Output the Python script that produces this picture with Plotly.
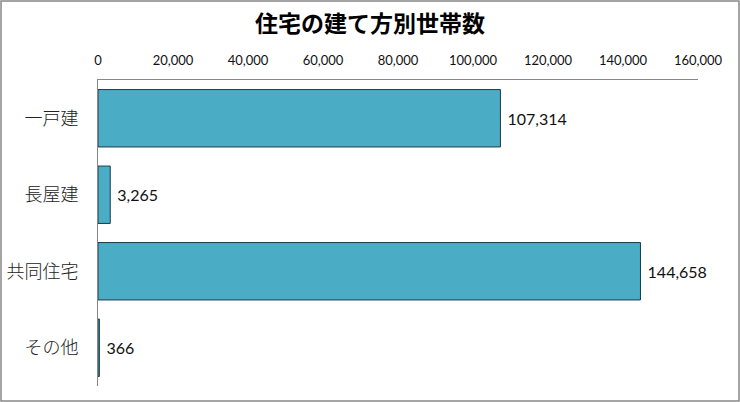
import plotly.graph_objects as go

categories = ["一戸建", "長屋建", "共同住宅", "その他"]
values = [107314, 3265, 144658, 366]
tick_vals = [0, 20000, 40000, 60000, 80000, 100000, 120000, 140000, 160000]
tick_text = ["0", "20,000", "40,000", "60,000", "80,000", "100,000", "120,000", "140,000", "160,000"]

W, H = 740, 402
L, R, T, B = 98, 42, 80, 16
pw, ph = W - L - R, H - T - B

FONT = "Lato, 'Noto Sans CJK JP', sans-serif"
JFONT = "'Noto Sans CJK JP', sans-serif"

fig = go.Figure(go.Bar(
    x=values, y=categories, orientation="h",
    marker=dict(color="#4BACC6", line=dict(color="#1f3a4a", width=1)),
    text=[f" {v:,}" for v in values], textposition="outside",
    textfont=dict(size=16, color="#111", family=FONT),
    cliponaxis=False,
))

fig.update_layout(
    width=W, height=H,
    margin=dict(l=L, r=R, t=T, b=B, autoexpand=False),
    paper_bgcolor="white", plot_bgcolor="white",
    title=dict(text="<b>住宅の建て方別世帯数</b>", x=0.5, xanchor="center",
               y=1 - 24 / H, yanchor="middle",
               font=dict(size=23, color="#000", family=JFONT, weight=900)),
    bargap=0.25,
    showlegend=False,
    font=dict(family=FONT, color="#111"),
)
fig.update_xaxes(side="top", range=[0, 160000], tickvals=tick_vals, ticktext=tick_text,
                 showgrid=False, zeroline=False, showline=True, linecolor="#888", linewidth=1,
                 ticks="", automargin=False,
                 tickfont=dict(size=13, family=FONT, color="#111"), ticklabelstandoff=9)
fig.update_yaxes(autorange="reversed", showgrid=False, showline=True, linecolor="#888",
                 linewidth=1, ticks="", ticklabelstandoff=15, automargin=False,
                 tickfont=dict(size=18, family=JFONT, color="#222", weight=300))

fig.add_shape(type="rect", xref="paper", yref="paper",
              x0=(1 - L) / pw, x1=(W - 1 - L) / pw,
              y0=(H - B - (H - 1)) / ph, y1=(H - B - 1) / ph,
              line=dict(color="#888", width=1.5), fillcolor="rgba(0,0,0,0)", layer="above")

fig.write_html("out.html", config={"displayModeBar": False},
               post_script="document.body.style.margin='0px';document.body.style.padding='0px';document.body.style.overflow='hidden';")
